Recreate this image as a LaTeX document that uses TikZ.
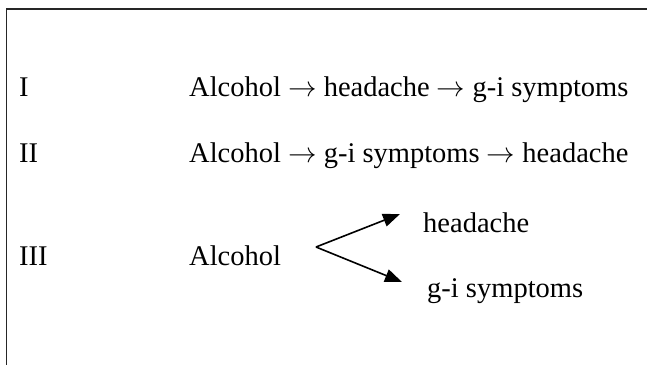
\RequirePackage{fix-cm}
\documentclass[tikz,border=0pt]{standalone}
\usepackage{fontspec}
\setmainfont{Liberation Serif}
\usetikzlibrary{arrows.meta}
\begin{document}
\begin{tikzpicture}[x=1pt, y=-1pt,
    every node/.style={anchor=base west, inner sep=0pt, font=\fontsize{28.5}{34}\selectfont},
    branch/.style={-{Triangle[length=17pt, width=13pt]}, line width=1.6pt}]
        \useasboundingbox (0,0) rectangle (647,365);
        \draw[line width=1.4pt, black!85] (647,9) -- (6.5,9) -- (6.5,365);
        \node (one) at (19,96) {I};
        \node (seqone) at (189,96) {Alcohol $\rightarrow$ headache $\rightarrow$ g-i symptoms};
        \node (two) at (19,162) {II};
        \node (seqtwo) at (189,162) {Alcohol $\rightarrow$ g-i symptoms $\rightarrow$ headache};
        \node (three) at (19,265) {III};
        \node (alc) at (189,265) {Alcohol};
        \node (hd) at (423,232) {headache};
        \node (gi) at (427,297) {g-i symptoms};
        \coordinate (fork) at (316,247);
        \coordinate (hdtip) at (400,214);
        \coordinate (gitip) at (402,282);
        \draw[branch] (fork) -- (hdtip);
        \draw[branch] (fork) -- (gitip);
    \end{tikzpicture}
\end{document}
